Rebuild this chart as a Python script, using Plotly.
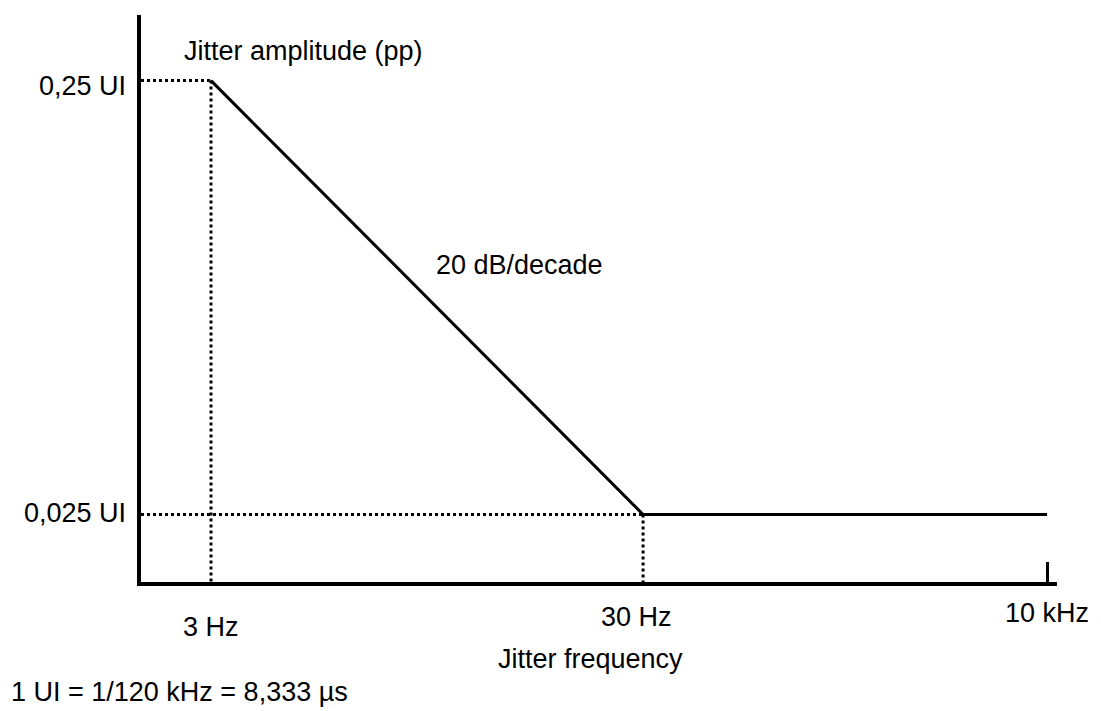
import plotly.graph_objects as go

# ---- data (schematic jitter tolerance mask) ----
freq_labels = ["3 Hz", "30 Hz", "10 kHz"]
freq_pos = [1.0, 2.0, 2.935]          # schematic position along the frequency axis
amplitude = [0.25, 0.025, 0.025]       # jitter amplitude, UI (pp)
amp_labels = ["0,25 UI", "0,025 UI"]
amp_values = [0.25, 0.025]
slope_label = "20 dB/decade"
y_title = "Jitter amplitude (pp)"
x_title = "Jitter frequency"
note = "1 UI = 1/120 kHz = 8,333 µs"

X_RANGE = [0.838, 2.958]
Y_RANGE = [-0.010, 0.284]

FONT = "Arial, 'Liberation Sans', sans-serif"
FS = 27
W, H = 1101, 711
ML, MR, MT, MB = 141, 44, 15, 129
PW, PH = W - ML - MR, H - MT - MB


def px(x):
    return (x - ML) / PW


def py(y):
    return (MT + PH - y) / PH


fig = go.Figure()

# dotted guide lines from the axes to the corner points
for xv, yv in [(freq_pos[0], amplitude[0]), (freq_pos[1], amplitude[1])]:
    fig.add_trace(go.Scatter(x=[X_RANGE[0], xv], y=[yv, yv], mode="lines",
                             line=dict(color="black", width=3, dash="dot"),
                             hoverinfo="skip", showlegend=False))
    fig.add_trace(go.Scatter(x=[xv, xv], y=[yv, Y_RANGE[0]], mode="lines",
                             line=dict(color="black", width=3, dash="dot"),
                             hoverinfo="skip", showlegend=False))

# mask line
fig.add_trace(go.Scatter(x=freq_pos, y=amplitude, mode="lines",
                         line=dict(color="black", width=3),
                         showlegend=False))

annotations = []
# y labels
y_shifts = [-5, 2]
for lab, val, ys in zip(amp_labels, amp_values, y_shifts):
    annotations.append(dict(x=X_RANGE[0], xref="x", y=val, yref="y",
                            text=lab, showarrow=False, xanchor="right",
                            yanchor="middle", xshift=-13, yshift=ys))
# x labels
x_label_shift = [(0, -44.5), (-7, -35), (0, -30.5)]
for lab, pos, (xs, ys) in zip(freq_labels, freq_pos, x_label_shift):
    annotations.append(dict(x=pos, xref="x", y=0, yref="paper", text=lab,
                            showarrow=False, xanchor="center",
                            yanchor="middle", xshift=xs, yshift=ys))

annotations += [
    dict(x=px(303), y=py(51), xref="paper", yref="paper", text=y_title,
         showarrow=False, xanchor="center", yanchor="middle"),
    dict(x=px(519.5), y=py(265), xref="paper", yref="paper", text=slope_label,
         showarrow=False, xanchor="center", yanchor="middle"),
    dict(x=px(590), y=py(659), xref="paper", yref="paper", text=x_title,
         showarrow=False, xanchor="center", yanchor="middle"),
    dict(x=px(9), y=py(692), xref="paper", yref="paper", text=note,
         showarrow=False, xanchor="left", yanchor="middle"),
]

fig.update_layout(
    width=W, height=H,
    margin=dict(l=ML, r=MR, t=MT, b=MB, pad=0),
    paper_bgcolor="white", plot_bgcolor="white",
    font=dict(family=FONT, size=FS, color="black"),
    annotations=annotations,
    showlegend=False,
    xaxis=dict(range=X_RANGE, showgrid=False, zeroline=False,
               showline=True, linecolor="black", linewidth=3.5,
               tickvals=[freq_pos[2]], ticks="inside", ticklen=20,
               tickwidth=3, tickcolor="black", showticklabels=False,
               fixedrange=True),
    yaxis=dict(range=Y_RANGE, showgrid=False, zeroline=False,
               showline=True, linecolor="black", linewidth=3.5,
               showticklabels=False, ticks="", fixedrange=True),
)

fig.write_html("out.html", config={"displayModeBar": False},
               post_script="document.body.style.margin='0';"
                           "document.body.style.overflow='hidden';")
